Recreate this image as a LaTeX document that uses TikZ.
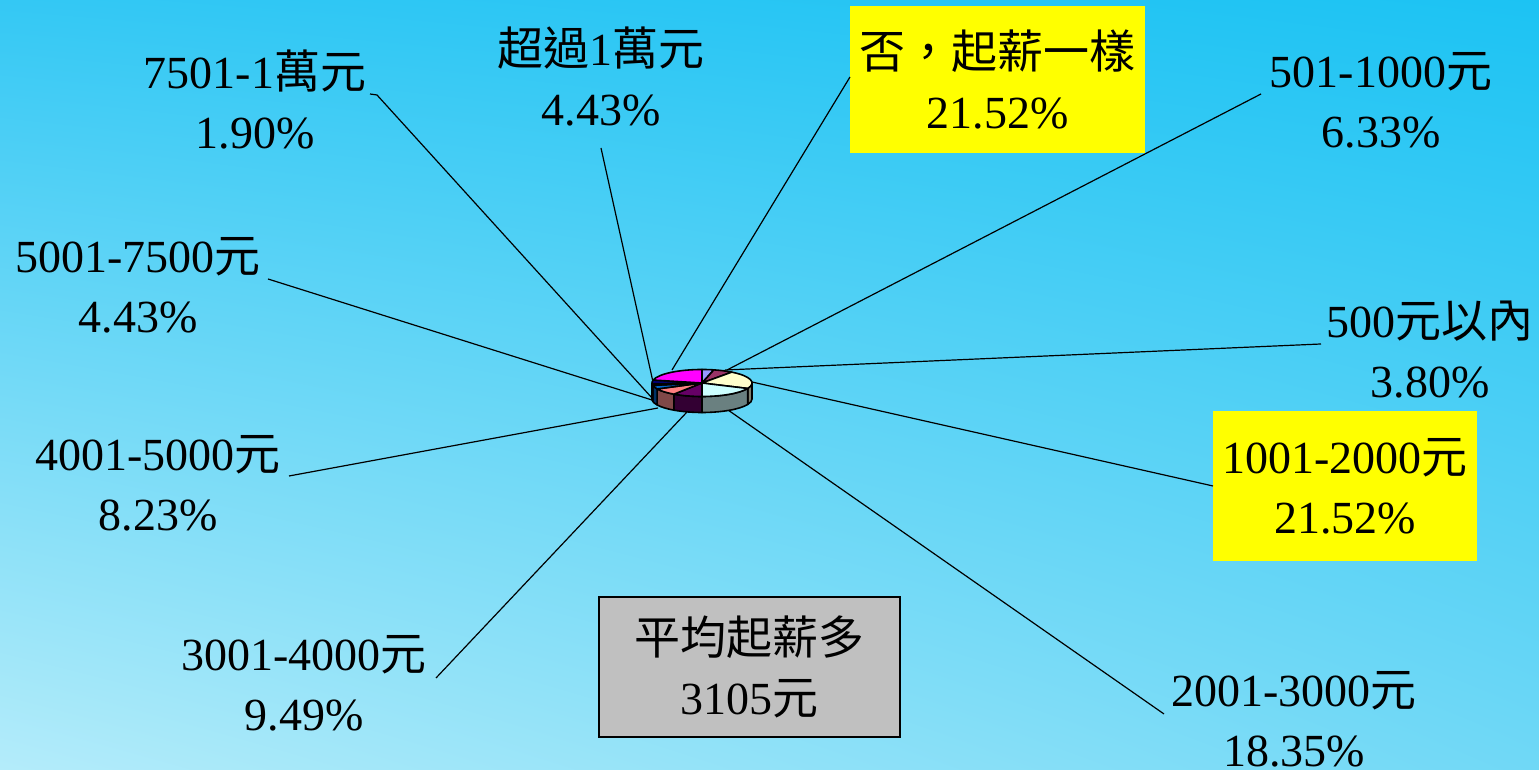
\documentclass[tikz,border=0pt]{standalone}
\usepackage{fontspec}
\usetikzlibrary{shadings}
\setmainfont{Liberation Serif}
\newfontfamily\cjk{Noto Sans CJK TC}
\newcommand\zh[1]{{\cjk #1}}
\definecolor{bgTL}{HTML}{34C8F4}
\definecolor{bgTR}{HTML}{1CC3F3}
\definecolor{bgBL}{HTML}{B4ECFA}
\definecolor{bgBR}{HTML}{70D8F6}
\definecolor{cA}{HTML}{9999FF}
\definecolor{cB}{HTML}{993366}
\definecolor{cC}{HTML}{FFFFCC}
\definecolor{cD}{HTML}{CCFFFF}
\definecolor{cE}{HTML}{660066}
\definecolor{cF}{HTML}{FF8080}
\definecolor{cG}{HTML}{0066CC}
\definecolor{cH}{HTML}{CCCCFF}
\definecolor{cI}{HTML}{000080}
\definecolor{cJ}{HTML}{FF00FF}
\definecolor{sC}{HTML}{808070}
\definecolor{sD}{HTML}{6A8080}
\definecolor{sE}{HTML}{330033}
\definecolor{sF}{HTML}{804848}
\definecolor{sG}{HTML}{003366}
\definecolor{sH}{HTML}{666680}
\definecolor{sI}{HTML}{000040}
\definecolor{hiYellow}{HTML}{FFFF00}
\definecolor{boxGray}{HTML}{C0C0C0}
\newcommand\pslice[3]{\filldraw[pieedge,fill=#3] (0,0) -- (#1:25pt and 6.75pt) arc[start angle=#1, end angle=#2, x radius=25pt, y radius=6.75pt] -- cycle;}
\newcommand\pside[3]{\filldraw[pieedge,fill=#3] (#1:25pt and 6.75pt) arc[start angle=#1, end angle=#2, x radius=25pt, y radius=6.75pt] -- ++(0,-8pt) arc[start angle=#2, end angle=#1, x radius=25pt, y radius=6.75pt] -- cycle;}
\begin{document}
\begin{tikzpicture}[x=0.5pt,y=0.5pt,
  lbl/.style={align=center, font=\fontsize{23}{30}\selectfont, inner sep=0pt},
  hibox/.style={lbl, fill=hiYellow},
  graybox/.style={lbl, fill=boxGray, draw=black, line width=0.6pt},
  leader/.style={draw=black, line width=0.6pt},
  pieedge/.style={draw=black, line width=0.8pt, line join=round}]
\useasboundingbox (0,0) rectangle (1539,770);
\shade[upper left=bgTL, upper right=bgTR, lower left=bgBL, lower right=bgBR] (0,0) rectangle (1539,770);

% labels
\node[lbl] (l7501) at (255,670) {7501-1\zh{萬元}\\1.90\%};
\node[lbl] (lover) at (601,693) {\zh{超過}1\zh{萬元}\\4.43\%};
\node[hibox, minimum width=147.5pt, minimum height=73.5pt] (lsame) at (997.5,690.5) {\zh{否，起薪一樣}\\21.52\%};
\node[lbl] (l501) at (1381,670) {501-1000\zh{元}\\6.33\%};
\node[lbl] (l5001) at (138,485) {5001-7500\zh{元}\\4.43\%};
\node[lbl] (l500) at (1430,420) {500\zh{元以內}\\3.80\%};
\node[lbl] (l4001) at (158,287) {4001-5000\zh{元}\\8.23\%};
\node[hibox, minimum width=132pt, minimum height=75pt] (l1001) at (1345,284) {1001-2000\zh{元}\\21.52\%};
\node[lbl] (l3001) at (304,87) {3001-4000\zh{元}\\9.49\%};
\node[lbl] (l2001) at (1294,51) {2001-3000\zh{元}\\18.35\%};
\node[graybox, minimum width=150.5pt, minimum height=70pt] (avg) at (749.5,103) {\zh{平均起薪多}\\3105\zh{元}};

% leader start points
\coordinate (s7501) at (370,676);
\coordinate (k7501) at (377,675);
\coordinate (sover) at (601,622);
\coordinate (ssame) at (850,693);
\coordinate (s501) at (1261,676);
\coordinate (s500) at (1321,426);
\coordinate (s1001) at (1213,284);
\coordinate (s2001) at (1164,56);
\coordinate (s3001) at (436,92);
\coordinate (s4001) at (289,294);
\coordinate (s5001) at (268,491);
% leader end points on the pie
\coordinate (e7501) at (652,372);
\coordinate (e5001) at (652,370);
\coordinate (e4001) at (658,362);
\coordinate (eover) at (653,388);
\coordinate (esame) at (672,400);
\coordinate (e501) at (727,400);
\coordinate (e500) at (725,400);
\coordinate (e1001) at (752,388);
\coordinate (e2001) at (728,360);
\coordinate (e3001) at (687,358);

\draw[leader] (s7501) -- (k7501) -- (e7501);
\draw[leader] (sover) -- (eover);
\draw[leader] (ssame) -- (esame);
\draw[leader] (s501) -- (e501);
\draw[leader] (s500) -- (e500);
\draw[leader] (s1001) -- (e1001);
\draw[leader] (s2001) -- (e2001);
\draw[leader] (s3001) -- (e3001);
\draw[leader] (s4001) -- (e4001);
\draw[leader] (s5001) -- (e5001);

% 3D pie
\begin{scope}[shift={(702,387)}]
\pside{0}{-23.94}{sC}
\pside{-23.94}{-90}{sD}
\pside{-90}{-124.16}{sE}
\pside{-124.16}{-153.79}{sF}
\pside{-153.79}{-169.74}{sG}
\pside{-169.74}{-176.58}{sH}
\pside{-176.58}{-180}{sI}
\pslice{90}{76.32}{cA}
\pslice{76.32}{53.53}{cB}
\pslice{53.53}{-23.94}{cC}
\pslice{-23.94}{-90}{cD}
\pslice{-90}{-124.16}{cE}
\pslice{-124.16}{-153.79}{cF}
\pslice{-153.79}{-169.74}{cG}
\pslice{-169.74}{-176.58}{cH}
\pslice{-176.58}{-192.53}{cI}
\pslice{-192.53}{-270}{cJ}
\end{scope}
\end{tikzpicture}
\end{document}
